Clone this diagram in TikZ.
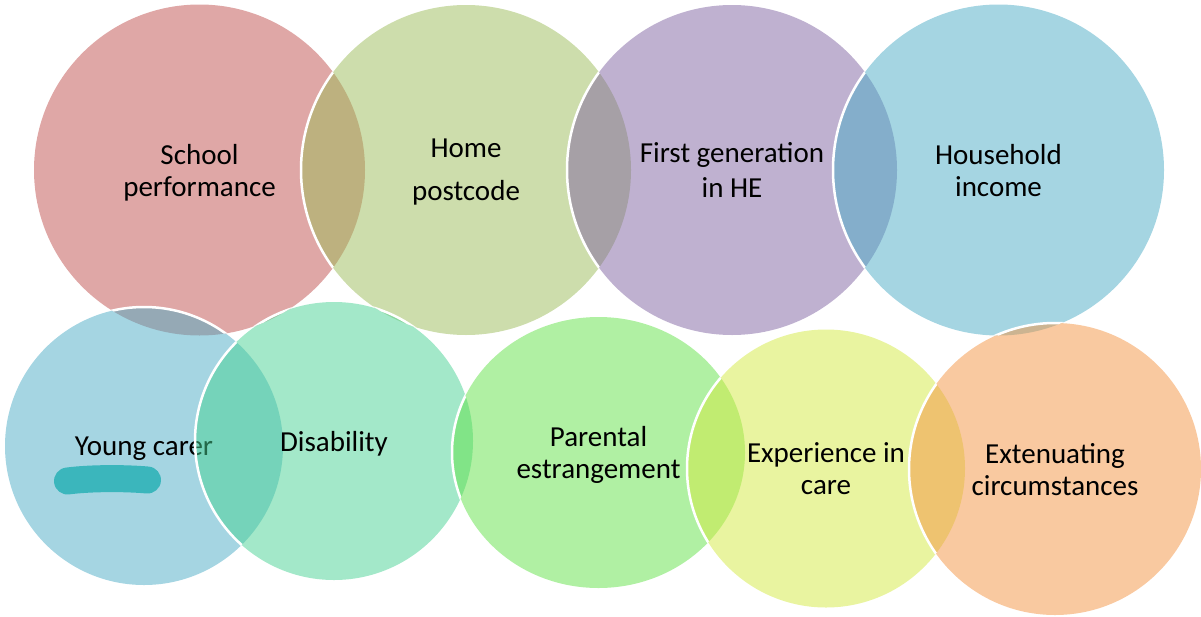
\documentclass[tikz,border=0pt]{standalone}
\usepackage{fontspec}
\setmainfont{Carlito}
\usetikzlibrary{shapes.geometric}
\definecolor{cRed}{HTML}{C0504D}
\definecolor{cOlive}{HTML}{9BBB59}
\definecolor{cPurple}{HTML}{8064A2}
\definecolor{cAqua}{HTML}{4BACC6}
\definecolor{cMint}{HTML}{47D193}
\definecolor{cLime}{HTML}{61E147}
\definecolor{cYellow}{HTML}{D3E941}
\definecolor{cOrange}{HTML}{F39341}
\definecolor{cTeal}{HTML}{3BB6BC}
\begin{document}
\begin{tikzpicture}[x=1pt,y=-1pt,
  bub/.style={circle, inner sep=0pt, fill opacity=0.5, text opacity=1, align=center,
    font=\fontsize{29}{32}\selectfont, draw=none, text depth=0pt, minimum size=#1},
  rim/.style={draw=white, line width=2.5pt},
  penmark/.style={draw=cTeal, line width=27pt, line cap=round}]
\useasboundingbox (0,0) rectangle (1201,616);
% top row
\node[bub=331pt, fill=cRed] (school) at (199.5,170) {School\\performance};
\node[bub=330pt, fill=cOlive, font=\fontsize{29}{43}\selectfont] (home) at (466,170) {Home\\postcode};
\begin{scope}\clip (school.center) circle[radius=165.5pt]; \draw[rim] (home.center) circle[radius=165pt];\end{scope}
\node[bub=330pt, fill=cPurple, font=\fontsize{29}{35}\selectfont] (first) at (732,170) {First generation\\in HE};
\begin{scope}\clip (home.center) circle[radius=165pt]; \draw[rim] (first.center) circle[radius=165pt];\end{scope}
\node[bub=331pt, fill=cAqua] (income) at (998.5,170) {Household\\income};
\begin{scope}\clip (first.center) circle[radius=165pt]; \draw[rim] (income.center) circle[radius=165.5pt];\end{scope}
% bottom row
\node[bub=278pt, fill=cAqua] (carer) at (144,446) {Young carer};
\begin{scope}\clip (school.center) circle[radius=165.5pt]; \draw[rim] (carer.center) circle[radius=139pt];\end{scope}
\coordinate (m1) at (67.5,481);
\coordinate (m2) at (147.5,480);
\draw[penmark] (m1) .. controls (90,478) and (125,478) .. (m2);
\node[bub=278pt, fill=cMint] (disab) at (334,441) {Disability};
\begin{scope}\clip (school.center) circle[radius=165.5pt]; \draw[rim] (disab.center) circle[radius=139pt];\end{scope}
\begin{scope}\clip (home.center) circle[radius=165pt]; \draw[rim] (disab.center) circle[radius=139pt];\end{scope}
\begin{scope}\clip (carer.center) circle[radius=139pt]; \draw[rim] (disab.center) circle[radius=139pt];\end{scope}
\node[bub=0pt, ellipse, minimum width=293pt, minimum height=271pt, fill=cLime] (estr) at (598.5,452.5) {Parental\\estrangement};
\begin{scope}\clip (disab.center) circle[radius=139pt]; \draw[rim] (estr.center) ellipse[x radius=146.5pt, y radius=135.5pt];\end{scope}
\node[bub=278pt, fill=cYellow] (care) at (826,468.5) {Experience in\\care};
\begin{scope}\clip (estr.center) ellipse[x radius=146.5pt, y radius=135.5pt]; \draw[rim] (care.center) circle[radius=139pt];\end{scope}
\node[bub=292pt, fill=cOrange] (ext) at (1055,469) {Extenuating\\circumstances};
\begin{scope}\clip (care.center) circle[radius=139pt]; \draw[rim] (ext.center) circle[radius=146pt];\end{scope}
\begin{scope}\clip (income.center) circle[radius=165.5pt]; \draw[rim] (ext.center) circle[radius=146pt];\end{scope}
\end{tikzpicture}
\end{document}
